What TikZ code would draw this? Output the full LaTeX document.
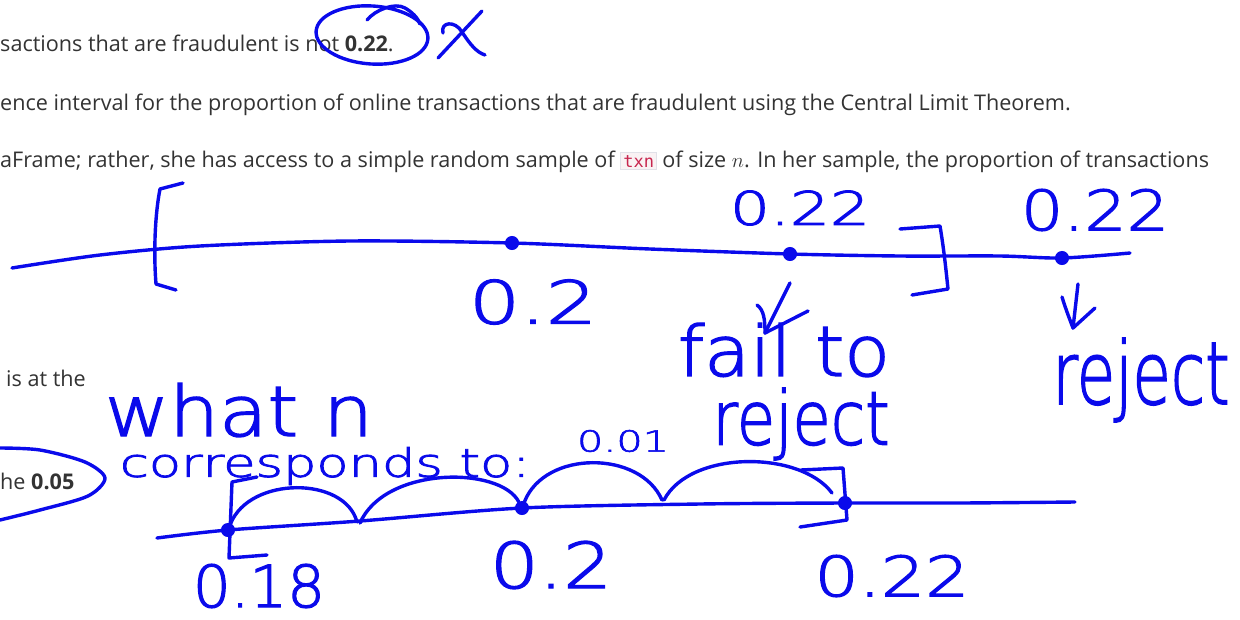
\documentclass[tikz,border=0pt]{standalone}
\usepackage{fontspec}
\setmainfont{Open Sans}
\setmonofont{DejaVu Sans Mono}
\newfontfamily\handfont{DejaVuSans-ExtraLight}[Extension=.ttf, FakeBold=2]
\definecolor{ink}{RGB}{10,10,235}
\definecolor{doctext}{RGB}{51,51,51}
\definecolor{codepink}{RGB}{199,37,78}
\definecolor{codebg}{RGB}{249,242,244}
\definecolor{codeborder}{RGB}{225,225,232}
\newcommand{\hw}[3]{\resizebox*{#1pt}{#2pt}{#3}}
\newcommand{\code}[1]{{\setlength{\fboxsep}{2pt}\setlength{\fboxrule}{0.8pt}\fcolorbox{codeborder}{codebg}{\textcolor{codepink}{\ttfamily\fontsize{17}{19}\selectfont #1}}}}
\begin{document}
\begin{tikzpicture}[x=1pt,y=-1pt,
  doc/.style={anchor=base west, inner sep=0pt, text=doctext, font=\fontsize{21.6}{24}\selectfont},
  stroke/.style={draw=ink, line width=3.4pt, line cap=round, line join=round},
  dotmark/.style={circle, draw=ink, fill=ink, minimum size=13pt, inner sep=0pt, line width=1pt},
  hand/.style={text=ink, inner sep=0pt, font=\handfont}]
\useasboundingbox (0,0) rectangle (1240,619);
\fill[white] (0,0) rectangle (1240,619);

% document text
\node[doc] (t1) at (0,51) {sactions that are fraudulent is not \textbf{0.22}.};
\node[doc] (t2) at (0,110) {ence interval for the proportion of online transactions that are fraudulent using the Central Limit Theorem.};
\node[doc] (t3) at (0,167) {aFrame; rather, she has access to a simple random sample of \code{txn} of size $n$. In her sample, the proportion of transactions};
\node[doc] (t4) at (6,386) {is at the};
\node[doc] (t5) at (0,489) {he \textbf{0.05}};

% circle around 0.22 and the X
\draw[stroke, rotate around={-4:(372,35)}] (372,35) ellipse [x radius=56pt, y radius=29pt];
\draw[stroke] (367,20) .. controls (375,10) and (395,2) .. (405,8) .. controls (412,12) and (418,18) .. (420,24);
\draw[stroke] (443,33) .. controls (440,22) and (455,20) .. (462,32) .. controls (470,44) and (476,52) .. (485,55);
\draw[stroke] (482,11) -- (438,58);

% top number line
\draw[stroke] plot[smooth] coordinates {(12,268) (100,255) (200,246) (350,241) (512,243) (650,249) (790,254) (900,256) (1000,256) (1062,258) (1130,253)};
\draw[stroke] (183,183) -- (160,189) .. controls (154,220) and (154,260) .. (156,284) -- (176,290);
\draw[stroke] (900,229) -- (940,226) .. controls (944,250) and (946,270) .. (948,289) -- (912,295);
\node[dotmark] (d1) at (512,243) {};
\node[dotmark] (d2) at (790,254) {};
\node[dotmark] (d3) at (1062,258) {};
\node[hand] (l1) at (533,302) {\hw{128}{45}{0.2}};
\node[hand] (l2) at (800,208) {\hw{140}{35}{0.22}};
\node[hand] (l3) at (1095,210) {\hw{148}{42}{0.22}};
\node[hand] (fail) at (784,350) {\hw{212}{54}{fail to}};
\node[hand] (rej1) at (801,424) {\hw{177}{72}{reject}};
\node[hand] (rej2) at (1141,380) {\hw{177}{84}{reject}};
\coordinate (a1s) at (790,283);
\coordinate (a1e) at (765,333);
\coordinate (a2s) at (1078,284);
\coordinate (a2e) at (1073,328);
\draw[stroke] (a1s) -- (a1e);
\draw[stroke] (757,305) .. controls (764,310) and (765,320) .. (a1e) -- (808,311);
\draw[stroke] (a2s) -- (a2e);
\draw[stroke] (1062,297) .. controls (1066,310) and (1070,320) .. (a2e) -- (1095,308);

% text annotations at the bottom
\node[hand] (what) at (239,410) {\hw{268}{54}{what n}};
\node[hand] (corr) at (325,466) {\hw{410}{38}{corresponds to:}};
\node[hand] (c001) at (623,441) {\hw{92}{22}{0.01}};
\draw[stroke] plot[smooth] coordinates {(0,448) (40,450) (85,462) (105,478) (88,496) (40,510) (0,520)};

% bottom number line
\draw[stroke] plot[smooth] coordinates {(157,538) (228,530) (360,521) (522,508) (700,504) (845,503) (960,503) (1075,502)};
\node[dotmark] (b1) at (228,530) {};
\node[dotmark] (b2) at (522,508) {};
\node[dotmark] (b3) at (845,503) {};
\draw[stroke] (257,477) -- (232,482) -- (229,558) -- (267,555);
\draw[stroke] (801,470) -- (843,468) -- (847,520) -- (800,527);
\draw[stroke] (b1) .. controls (250,476) and (345,476) .. (357,522);
\draw[stroke] (360,523) .. controls (385,466) and (500,466) .. (b2);
\draw[stroke] (b2) .. controls (545,450) and (640,450) .. (662,500);
\draw[stroke] (664,500) .. controls (690,450) and (800,450) .. (832,493);
\node[hand] (n018) at (259,586) {\hw{132}{44}{0.18}};
\node[hand] (n02) at (551,565) {\hw{122}{48}{0.2}};
\node[hand] (n022) at (892,576) {\hw{155}{42}{0.22}};
\end{tikzpicture}
\end{document}
